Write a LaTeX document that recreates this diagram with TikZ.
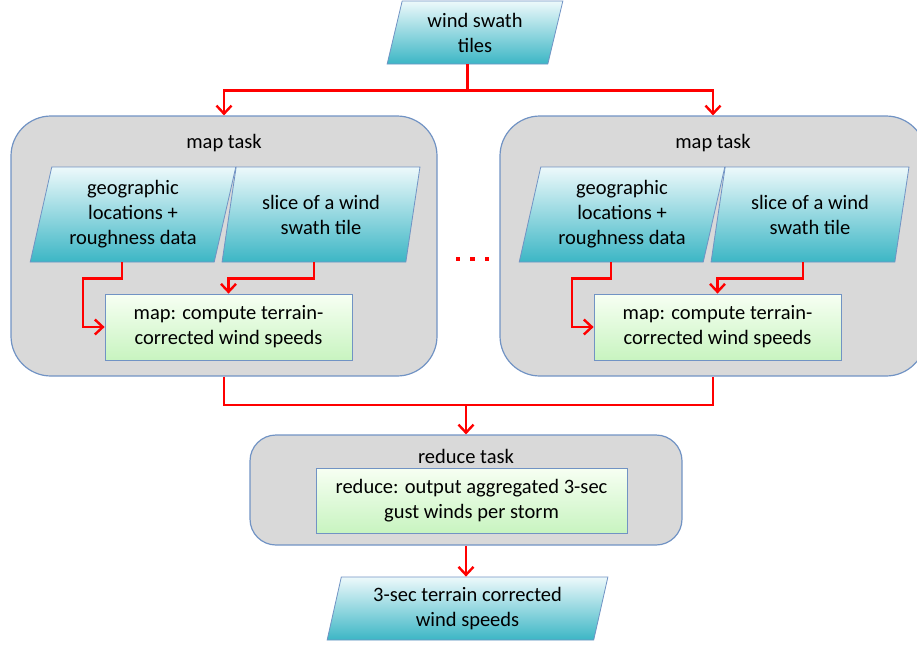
\documentclass[tikz,border=0pt]{standalone}
\usepackage{fontspec}
\setmainfont{Carlito}
\usepackage{tikz}
\usetikzlibrary{arrows.meta, positioning, shapes.geometric, calc}

\definecolor{paratop}{HTML}{EDF9FB}
\definecolor{parabot}{HTML}{3CB6C5}
\definecolor{greentop}{HTML}{F7FFF3}
\definecolor{greenbot}{HTML}{C8F4C0}
\definecolor{taskgray}{HTML}{D9D9D9}
\definecolor{edgeblue}{HTML}{7193C4}
\definecolor{flowred}{HTML}{FF0000}

\begin{document}
\begin{tikzpicture}[x=1pt, y=-1pt,
    every node/.style={font=\fontsize{20.5}{25}\selectfont, align=center, text=black},
    databox/.style={trapezium, trapezium left angle=76, trapezium right angle=104,
        trapezium stretches=true, draw=edgeblue, line width=0.8pt,
        top color=paratop, bottom color=parabot, inner sep=0pt},
    taskbox/.style={rectangle, rounded corners=40pt, draw=edgeblue, line width=1.2pt,
        fill=taskgray},
    workbox/.style={rectangle, draw=edgeblue, line width=0.8pt,
        top color=greentop, bottom color=greenbot, inner sep=0pt},
    flow/.style={draw=flowred, line width=2.6pt,
        -{Straight Barb[length=8pt, width=15pt, line width=2.4pt]}},
    flowline/.style={draw=flowred, line width=2.6pt}]
        \clip (0,0) rectangle (917,646);
        % input tiles
        \node[databox, minimum width=176, minimum height=63] (tiles) at (475,32.5) {wind swath\\tiles};
        % left map task
        \node[taskbox, minimum width=426, minimum height=260] (maptaskL) at (224,246) {};
        \node (labelL) at (224,143) {map task};
        \node[databox, minimum width=206, minimum height=95] (geoL) at (133,214.5) {geographic\\locations +\\roughness data};
        \node[databox, minimum width=198, minimum height=95] (sliceL) at (321,214.5) {slice of a wind\\swath tile};
        \node[workbox, minimum width=247, minimum height=66] (mapL) at (228.5,327) {map: compute terrain-\\corrected wind speeds};
        % right map task
        \node[taskbox, minimum width=426, minimum height=260] (maptaskR) at (713,246) {};
        \node (labelR) at (713,143) {map task};
        \node[databox, minimum width=206, minimum height=95] (geoR) at (622,214.5) {geographic\\locations +\\roughness data};
        \node[databox, minimum width=198, minimum height=95] (sliceR) at (810,214.5) {slice of a wind\\swath tile};
        \node[workbox, minimum width=247, minimum height=66] (mapR) at (717.5,327) {map: compute terrain-\\corrected wind speeds};
        % more tasks
        \foreach \dx in {458,472.5,487}
            \fill[flowred] (\dx-2.2,256.8) rectangle (\dx+2.2,261.2);
        % reduce task
        \node[taskbox, rounded corners=26pt, minimum width=432, minimum height=110] (reducetask) at (466,490) {};
        \node (labelRed) at (466,456) {reduce task};
        \node[workbox, minimum width=311, minimum height=65] (reduce) at (471.5,500.5) {reduce: output aggregated 3-sec\\gust winds per storm};
        % output
        \node[databox, minimum width=281, minimum height=63] (out) at (467.5,608.5) {3-sec terrain corrected\\wind speeds};
        % connectors
        \coordinate (split) at ($(tiles.bottom side)+(0,26)$);
        \coordinate (join) at (466,405);
        \draw[flowline] (tiles.bottom side) -- (split);
        \draw[flow] (split) -| (maptaskL.north);
        \draw[flow] (split) -| (maptaskR.north);
        \draw[flow] (geoL.bottom side) -- ++(0,16) -- ++(-39,0) |- (mapL.west);
        \draw[flow] (sliceL.bottom side) -- ++(0,16) -| (mapL.north);
        \draw[flow] (geoR.bottom side) -- ++(0,16) -- ++(-39,0) |- (mapR.west);
        \draw[flow] (sliceR.bottom side) -- ++(0,16) -| (mapR.north);
        \draw[flowline] (maptaskL.south) |- (join) -| (maptaskR.south);
        \draw[flow] (join) -- (reducetask.north);
        \draw[flow] (reducetask.south) -- (reducetask.south |- out.north);
    \end{tikzpicture}
\end{document}
